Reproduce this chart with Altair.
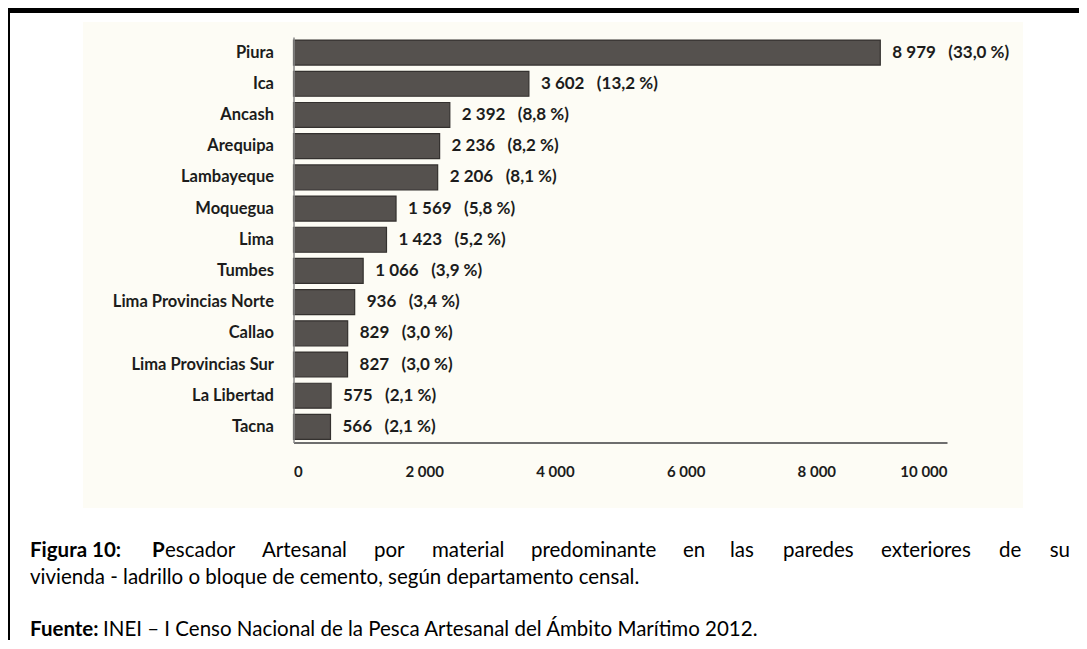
import altair as alt
import pandas as pd

regions = ["Piura", "Ica", "Ancash", "Arequipa", "Lambayeque", "Moquegua", "Lima",
           "Tumbes", "Lima Provincias Norte", "Callao", "Lima Provincias Sur",
           "La Libertad", "Tacna"]
values = [8979, 3602, 2392, 2236, 2206, 1569, 1423, 1066, 936, 829, 827, 575, 566]
pcts = ["33,0", "13,2", "8,8", "8,2", "8,1", "5,8", "5,2", "3,9", "3,4", "3,0", "3,0", "2,1", "2,1"]
x_ticks = [0, 2000, 4000, 6000, 8000, 10000]

FONT = "Lato"
NB = "\u00a0"


def fmt_num(v):
    return f"{v:,}".replace(",", NB)


df = pd.DataFrame({
    "region": regions,
    "value": values,
    "label": [fmt_num(v) + NB * 3 + "(" + p + NB + "%)" for v, p in zip(values, pcts)],
})

# plot area geometry (page coords): origin x=293.5, y=37
W, H = 653.5, 405.5
OX, OY = 293.5, 37.0
TOTAL_W, TOTAL_H = 1071, 632


def px(x):
    return x - OX


def py(y):
    return y - OY


one = alt.Data(values=[{"a": 1}])

border = alt.Chart(one).mark_rect(filled=False, stroke="black", strokeWidth=5).encode(
    x=alt.value(px(7.5)), x2=alt.value(px(1200)),
    y=alt.value(py(10.5)), y2=alt.value(py(800)),
)

backdrop = alt.Chart(one).mark_rect(fill="#fdfcf5").encode(
    x=alt.value(px(83)), x2=alt.value(px(1023)),
    y=alt.value(py(22)), y2=alt.value(py(508)),
)

bars = alt.Chart(df).mark_bar(
    color="#55514e", stroke="#34312f", strokeWidth=1.2
).encode(
    y=alt.Y("region:N", sort=regions, title=None,
            scale=alt.Scale(paddingInner=0.2, paddingOuter=0.1),
            axis=alt.Axis(labelFont=FONT, labelFontSize=16.5, labelFontWeight="bold",
                          labelColor="#1c1c1c", labelPadding=20, ticks=False,
                          domainColor="#8a8a8a", domainWidth=1.5, zindex=1)),
    x=alt.X("value:Q", title=None,
            scale=alt.Scale(domain=[0, 10000], nice=False),
            axis=alt.Axis(values=x_ticks, grid=False, ticks=False,
                          labelFont=FONT, labelFontSize=15, labelFontWeight="bold",
                          labelColor="#1c1c1c", labelPadding=22,
                          domainColor="#6e6e6e", domainWidth=1.8, zindex=1,
                          labelExpr="replace(format(datum.value, ','), ',', '\u00a0')")),
)

labels = alt.Chart(df).mark_text(
    align="left", baseline="middle", dx=12, font=FONT, fontSize=17,
    fontWeight="bold", color="#1c1c1c"
).encode(
    y=alt.Y("region:N", sort=regions),
    x=alt.X("value:Q"),
    text="label:N",
)

# caption pieces: (text, page_x, page_y, bold) -- line 1 is justified
cap_size = 20.5
line1_y, line2_y, line3_y = 551, 578, 630
caption = [
    ("Figura 10:", 30, line1_y, True),
    ("P", 152, line1_y, True),
    ("escador", 165, line1_y, False),
    ("Artesanal", 262, line1_y, False),
    ("por", 374, line1_y, False),
    ("material", 432, line1_y, False),
    ("predominante", 531, line1_y, False),
    ("en", 683, line1_y, False),
    ("las", 730, line1_y, False),
    ("paredes", 783, line1_y, False),
    ("exteriores", 881, line1_y, False),
    ("de", 999, line1_y, False),
    ("su", 1070, line1_y, False),
    ("vivienda - ladrillo o bloque de cemento, según departamento censal.", 30, line2_y, False),
    ("Fuente:", 30, line3_y, True),
    ("INEI – I Censo Nacional de la Pesca Artesanal del Ámbito Marítimo 2012.", 103, line3_y, False),
]

cap_layers = []
for txt, x, y, b in caption:
    align = "right" if txt == "su" else "left"
    cap_layers.append(
        alt.Chart(one).mark_text(
            text=txt, align=align, baseline="middle", font=FONT, fontSize=cap_size,
            fontWeight="bold" if b else "normal", color="#000000"
        ).encode(x=alt.value(px(x)), y=alt.value(py(y)))
    )

chart = alt.layer(backdrop, border, bars, labels, *cap_layers).properties(
    width=W, height=H,
    autosize=alt.AutoSizeParams(type="none"),
    padding={"left": OX - 8, "top": OY - 8, "right": TOTAL_W - (OX - 8) - W,
             "bottom": TOTAL_H - (OY - 8) - H},
    background="white",
).configure_view(stroke=None)

chart.save("out.html", embed_options={"renderer": "svg", "actions": False})
